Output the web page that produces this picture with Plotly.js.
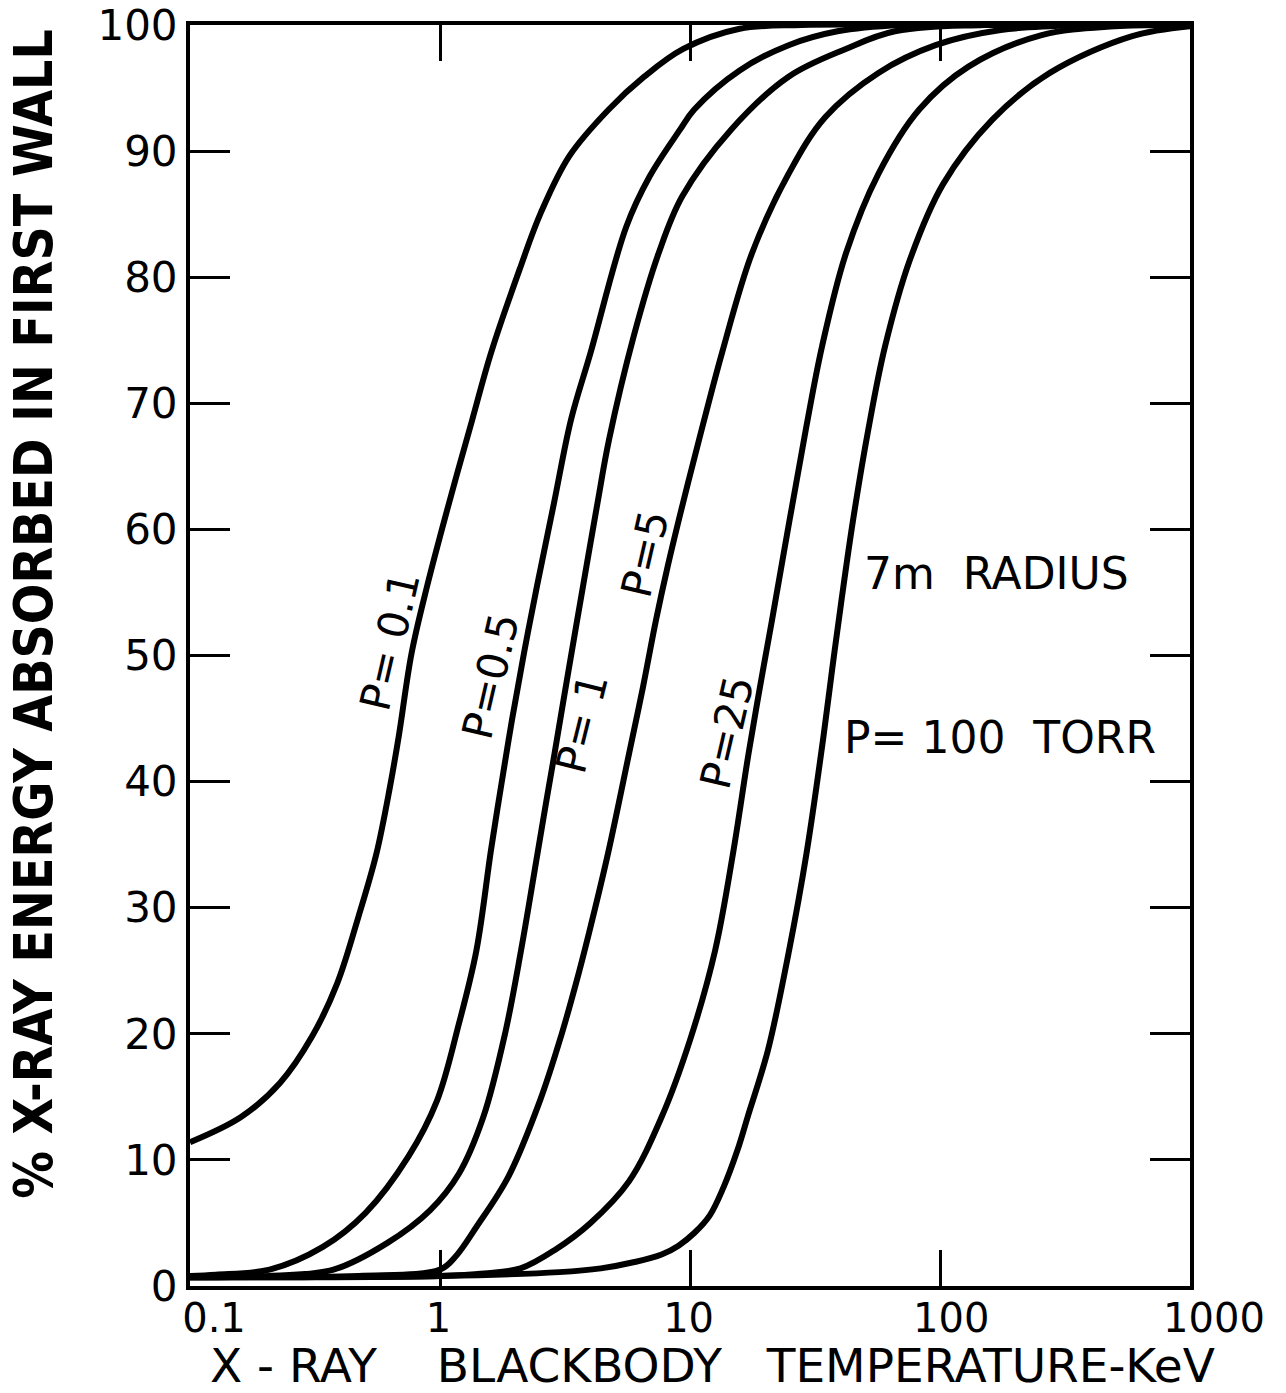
<!DOCTYPE html>
<html>
<head>
<meta charset="utf-8">
<script src="https://cdn.plot.ly/plotly-3.0.1.min.js"></script>
<style>
html,body{margin:0;padding:0;background:#fff;}
#chart{width:1286px;height:1393px;}
</style>
</head>
<body>
<div id="chart"></div>
<script>
// ---- data (temperature keV, % absorbed) ----
const seriesNames = ["P=0.1", "P=0.5", "P=1", "P=5", "P=25", "P=100"];

const T_p01 = [0.1, 0.16, 0.229, 0.308, 0.388, 0.472, 0.557, 0.631, 0.684, 0.770, 0.888, 1.087, 1.346, 1.60, 2.08, 2.53, 3.29, 4.73, 6.56, 9.4, 15.8, 28, 100, 1000];
const V_p01 = [11.4, 13.4, 16.1, 19.8, 24.0, 29.3, 34.3, 39.6, 43.6, 50.2, 55.5, 62.1, 68.7, 74.0, 80.6, 85.1, 89.6, 93.3, 95.9, 98.1, 99.7, 100, 100, 100];

const T_p05 = [0.1, 0.127, 0.208, 0.34, 0.504, 0.749, 0.973, 1.19, 1.398, 1.60, 1.754, 1.941, 2.168, 2.443, 2.858, 3.342, 4.0, 5.56, 6.9, 9.12, 10.4, 15.8, 24.8, 38.9, 70, 1000];
const V_p05 = [0.8, 0.9, 1.3, 3.1, 5.8, 10.3, 14.7, 20.8, 26.6, 34.6, 39.6, 44.9, 50.2, 55.5, 62.1, 68.7, 74.0, 84.0, 88.0, 91.7, 93.3, 96.4, 98.4, 99.5, 100, 100];

const T_p1 = [0.1, 0.208, 0.375, 0.614, 0.912, 1.19, 1.49, 1.82, 2.109, 2.455, 2.655, 2.871, 3.266, 3.733, 4.266, 4.742, 5.95, 7.49, 9.3, 14.6, 24.8, 42, 66, 150, 1000];
const V_p1 = [0.7, 0.8, 1.3, 3.4, 6.0, 8.9, 13.4, 20.0, 26.6, 34.3, 38.3, 42.2, 48.8, 55.5, 62.1, 67.1, 75.3, 81.9, 86.4, 91.7, 95.9, 98.1, 99.5, 100, 100];

const T_p5 = [0.1, 0.472, 1.0, 1.15, 1.40, 1.88, 2.512, 3.048, 3.499, 3.945, 4.699, 5.702, 6.486, 7.311, 8.128, 9.376, 10.87, 13.43, 17.70, 24.8, 34.8, 56.7, 96, 175, 400, 1000];
const V_p5 = [0.7, 0.8, 1.3, 2.3, 4.7, 8.7, 14.7, 19.8, 24.0, 28.0, 34.3, 42.2, 47.5, 52.8, 57.0, 62.1, 67.1, 74.0, 81.9, 88.2, 92.7, 96.2, 98.4, 99.6, 100, 100];

const T_p25 = [0.1, 1.0, 1.5, 2.1, 2.9, 4.0, 5.7, 7.7, 10.0, 12.6, 14.86, 17.14, 19.05, 21.28, 25.0, 29.11, 33.73, 42.07, 56.7, 82.6, 130, 255, 500, 1000];
const V_p25 = [0.7, 0.8, 1.0, 1.4, 2.9, 5.0, 8.3, 13.4, 19.5, 26.6, 34.3, 42.2, 47.5, 52.8, 60.7, 68.0, 74.5, 81.9, 88.2, 93.3, 96.7, 99.2, 99.9, 100];

const T_p100 = [0.1, 1.0, 3.0, 4.4, 6.0, 7.7, 9.0, 10.4, 12.0, 13.6, 15.5, 17.0, 20.5, 24.9, 29.24, 34.2, 36.98, 40.18, 44.87, 51.76, 60.26, 75.86, 103, 162, 275, 583, 1000];
const V_p100 = [0.7, 0.8, 1.1, 1.4, 1.9, 2.5, 3.2, 4.2, 5.6, 7.8, 10.8, 13.4, 18.7, 26.6, 34.3, 43.6, 48.8, 54.1, 60.7, 68.0, 74.5, 81.4, 87.4, 92.5, 96.2, 99.1, 99.9];

const xTickVals = [0.1, 1, 10, 100, 1000];
// labels are shifted right as a group; trailing spaces pull individual ones back
const xTickText = ["0.1", "1\u00a0\u00a0\u00a0\u00a0", "10\u00a0\u00a0\u00a0\u00a0", "100\u00a0\u00a0", "1000"];
const yTickVals = [0, 10, 20, 30, 40, 50, 60, 70, 80, 90, 100];

// a zero-width char keeps the leading spaces (used to offset the centred titles)
const xTitle = "\u200b\u00a0\u00a0\u00a0X - RAY    BLACKBODY   TEMPERATURE-KeV";
const yTitle = "\u200b\u00a0\u00a0\u00a0\u00a0\u00a0% X-RAY ENERGY ABSORBED IN FIRST WALL";

// curve labels: [text, T position, % position, angle]
const curveLabels = [
  ["P= 0.1", 0.631, 51.1, -77],
  ["P=0.5", 1.60, 48.3, -77],
  ["P= 1", 3.70, 44.6, -76],
  ["P=5", 6.61, 58.0, -77],
  ["P=25", 14.06, 43.9, -77]
];
const noteLabels = [
  ["7m  RADIUS", 167.5, 56.5],
  ["P= 100  TORR", 173.8, 43.5]
];

// ---- build ----
const xs = [T_p01, T_p05, T_p1, T_p5, T_p25, T_p100];
const ys = [V_p01, V_p05, V_p1, V_p5, V_p25, V_p100];
const FONT = "DejaVu Sans, Liberation Sans, Arial, sans-serif";

const traces = xs.map((x, i) => ({
  x: x, y: ys[i], name: seriesNames[i], type: "scatter", mode: "lines",
  line: {color: "#000", width: 6, shape: "spline", smoothing: 1.0},
  hoverinfo: "x+y+name"
}));

const annotations = curveLabels.map(c => ({
  x: Math.log10(c[1]), y: c[2], xref: "x", yref: "y", text: c[0],
  textangle: c[3], showarrow: false,
  font: {family: FONT, size: 42, color: "#000"}
})).concat(noteLabels.map(n => ({
  x: Math.log10(n[1]), y: n[2], xref: "x", yref: "y", text: n[0],
  showarrow: false, font: {family: FONT, size: 44, color: "#000"}
})));

const layout = {
  width: 1286, height: 1393,
  margin: {l: 190, r: 96, t: 25, b: 107, pad: 0},
  paper_bgcolor: "#fff", plot_bgcolor: "#fff",
  showlegend: false,
  font: {family: FONT, color: "#000"},
  xaxis: {
    type: "log", range: [-1, 3],
    tickvals: xTickVals, ticktext: xTickText,
    ticks: "inside", ticklen: 36, tickwidth: 3, tickcolor: "#000",
    showline: true, linewidth: 4, linecolor: "#000", mirror: "ticks",
    showgrid: false, zeroline: false,
    tickfont: {family: FONT, size: 40, color: "#000"},
    ticklabelstandoff: -6,
    ticklabelshift: 24,
    title: {text: xTitle, font: {family: FONT, size: 47, color: "#000"}, standoff: 10},
    automargin: false
  },
  yaxis: {
    range: [0, 100],
    tickvals: yTickVals,
    ticks: "inside", ticklen: 40, tickwidth: 3, tickcolor: "#000",
    showline: true, linewidth: 4, linecolor: "#000", mirror: "ticks",
    showgrid: false, zeroline: false,
    tickfont: {family: FONT, size: 42, color: "#000"},
    title: {text: yTitle, font: {family: "DejaVu Sans Condensed, DejaVu Sans, sans-serif", size: 53, color: "#000", weight: "bold"}, standoff: 29},
    automargin: false
  },
  annotations: annotations
};

Plotly.newPlot("chart", traces, layout, {displayModeBar: false, staticPlot: true});
</script>
</body>
</html>
